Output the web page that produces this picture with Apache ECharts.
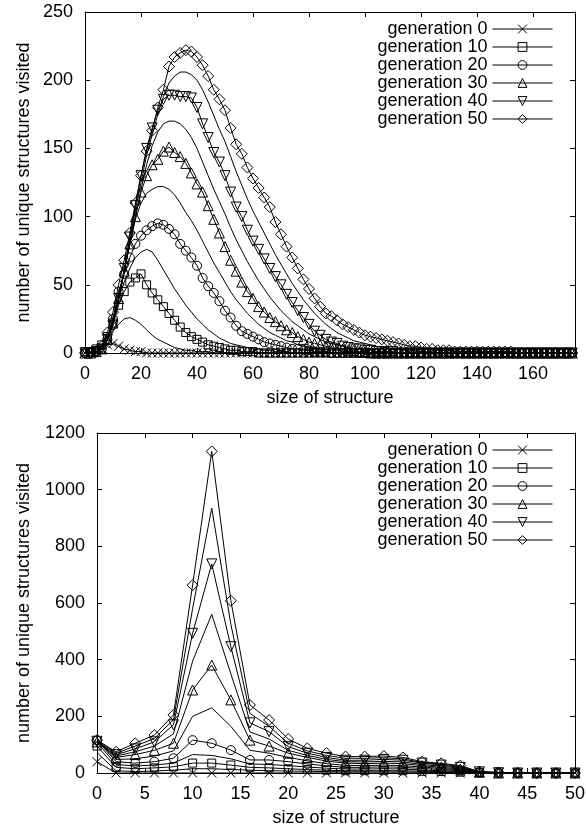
<!DOCTYPE html>
<html>
<head>
<meta charset="utf-8">
<script src="https://cdn.jsdelivr.net/npm/echarts@6/dist/echarts.min.js"></script>
<style>
html, body { margin: 0; padding: 0; background: #fff; }
#chart { width: 586px; height: 831px; }
</style>
</head>
<body>
<div id="chart"></div>
<script>
// sizes of structure (top panel, step 2)
var sizesTop = [0,2,4,6,8,10,12,14,16,18,20,22,24,26,28,30,32,34,36,38,40,42,44,46,48,50,52,54,56,58,
    60,62,64,66,68,70,72,74,76,78,80,82,84,86,88,90,92,94,96,98,100,102,104,106,108,110,112,114,116,118,
    120,122,124,126,128,130,132,134,136,138,140,142,144,146,148,150,152,154,156,158,160,162,164,166,168,170,172,174];
// sizes of structure (bottom panel)
var sizesBottom = [0,2,4,6,8,10,12,14,16,18,20,22,24,26,28,30,32,34,36,38,40,42,44,46,48,50];

var legendNames = ['generation 0', 'generation 10', 'generation 20', 'generation 30', 'generation 40', 'generation 50'];

// top panel, one array per generation
var top0  = [0,0,1,3,6,7,5,3,2,1, 1,0,0,0,0,0,0,0,0,0, 0,0,0,0,0,0,0,0,0,0, 0,0,0,0,0,0,0,0,0,0,
    0,0,0,0,0,0,0,0,0,0, 0,0,0,0,0,0,0,0,0,0, 0,0,0,0,0,0,0,0,0,0, 0,0,0,0,0,0,0,0,0,0, 0,0,0,0,0,0,0,0];
var top5  = [0,0,1,4,10,16,21,25,26,24, 21,17,13,10,8,6,4,3,2,2, 1,1,1,0,0,0,0,0,0,0, 0,0,0,0,0,0,0,0,0,0,
    0,0,0,0,0,0,0,0,0,0, 0,0,0,0,0,0,0,0,0,0, 0,0,0,0,0,0,0,0,0,0, 0,0,0,0,0,0,0,0,0,0, 0,0,0,0,0,0,0,0];
var top10 = [1,1,3,6,12,22,35,45,52,55, 58,50,44,39,34,29,24,19,15,12, 10,8,6,5,4,3,2,2,1,1, 1,0,0,0,0,0,0,0,0,0,
    0,0,0,0,0,0,0,0,0,0, 0,0,0,0,0,0,0,0,0,0, 0,0,0,0,0,0,0,0,0,0, 0,0,0,0,0,0,0,0,0,0, 0,0,0,0,0,0,0,0];
var top15 = [0,0,2,5,12,24,40,52,62,70, 74,76,74,68,61,54,47,41,35,30, 25,21,17,14,11,9,7,6,5,4, 3,3,2,2,1,1,1,0,0,0,
    0,0,0,0,0,0,0,0,0,0, 0,0,0,0,0,0,0,0,0,0, 0,0,0,0,0,0,0,0,0,0, 0,0,0,0,0,0,0,0,0,0, 0,0,0,0,0,0,0,0];
var top20 = [0,0,1,3,10,25,45,58,70,80, 86,90,93,95,94,91,87,80,75,70, 64,55,49,44,38,31,26,20,16,14, 12,10,8,7,6,5,4,3,3,2,
    2,1,1,1,0,0,0,0,0,0, 0,0,0,0,0,0,0,0,0,0, 0,0,0,0,0,0,0,0,0,0, 0,0,0,0,0,0,0,0,0,0, 0,0,0,0,0,0,0,0];
var top25 = [0,0,1,3,10,22,40,60,80,98, 110,117,120,122,122,120,116,110,103,97, 90,82,74,66,59,52,45,39,34,29, 25,21,18,15,13,11,9,8,6,5,
    4,4,3,3,2,2,1,1,1,0, 0,0,0,0,0,0,0,0,0,0, 0,0,0,0,0,0,0,0,0,0, 0,0,0,0,0,0,0,0,0,0, 0,0,0,0,0,0,0,0];
var top30 = [0,0,1,3,10,22,40,60,80,100, 118,130,138,142,148,151,147,144,139,132, 124,118,108,98,88,78,68,60,52,45, 40,34,30,26,23,20,17,15,12,10,
    8,7,6,5,4,3,3,2,2,1, 1,0,0,0,0,0,0,0,0,0, 0,0,0,0,0,0,0,0,0,0, 0,0,0,0,0,0,0,0,0,0, 0,0,0,0,0,0,0,0];
var top35 = [0,0,1,3,10,22,40,60,80,100, 120,138,152,162,168,170,170,168,164,158, 150,140,130,120,111,102,92,83,75,67, 60,53,47,41,36,31,27,23,20,17,
    14,12,10,8,7,6,5,4,3,3, 2,2,1,1,1,0,0,0,0,0, 0,0,0,0,0,0,0,0,0,0, 0,0,0,0,0,0,0,0,0,0, 0,0,0,0,0,0,0,0];
var top40 = [0,0,1,3,10,20,40,62,85,108, 130,150,165,178,186,189,189,188,188,187, 180,168,158,147,140,130,118,107,100,90, 82,76,69,62,56,50,43,37,31,26,
    21,16,13,10,8,7,5,4,3,3, 2,2,1,1,1,1,0,0,0,0, 0,0,0,0,0,0,0,0,0,0, 0,0,0,0,0,0,0,0,0,0, 0,0,0,0,0,0,0,0];
var top45 = [0,0,1,3,10,22,38,60,82,105, 125,145,160,175,188,198,203,206,206,204, 200,193,184,174,164,155,144,133,123,113, 104,96,88,80,72,65,58,51,45,39,
    34,29,25,21,18,15,13,11,9,8, 7,6,5,4,4,3,3,2,2,2, 1,1,1,0,0,0,0,0,0,0, 0,0,0,0,0,0,0,0,0,0, 0,0,0,0,0,0,0,0];
var top50 = [0,0,1,5,15,30,50,68,88,110, 130,148,163,180,193,210,217,220,222,221, 217,211,203,193,186,178,165,153,146,136, 128,121,114,107,96,87,78,70,62,54,
    47,40,34,29,27,24,21,19,17,15, 13,12,11,10,9,8,7,6,5,5, 4,3,3,2,2,2,1,1,1,1, 1,1,1,1,1,1,1,0,0,0, 0,0,0,0,0,0,0,0];

// bottom panel
var bot0  = [40,0,0,0,0,0,0,0,0,0,0,0,0,0,0,0,0,0,0,0,0,0,0,0,0,0];
var bot5  = [72,8,5,7,10,15,15,12,10,8,7,6,5,4,4,4,4,3,2,1,0,0,0,0,0,0];
var bot10 = [95,20,15,18,22,35,35,28,20,18,15,12,10,8,8,8,8,6,5,3,1,0,0,0,0,0];
var bot15 = [108,30,25,28,35,65,62,50,32,30,26,21,17,14,14,15,14,11,8,5,1,0,0,0,0,0];
var bot20 = [115,40,35,40,52,116,105,81,46,46,40,32,25,20,20,22,20,16,12,8,2,0,0,0,0,0];
var bot25 = [112,48,50,60,78,200,230,165,80,70,55,43,33,27,26,28,26,21,16,11,2,0,0,0,0,0];
var bot30 = [110,55,65,80,105,293,381,258,116,95,70,55,42,35,33,35,33,26,20,14,3,0,0,0,0,0];
var bot35 = [111,60,75,95,138,395,560,350,145,120,80,62,48,40,39,41,39,30,24,17,3,1,0,0,0,0];
var bot40 = [112,65,85,110,170,493,738,446,177,146,93,70,55,45,45,48,45,35,28,20,4,1,0,0,0,0];
var bot45 = [114,70,95,122,188,580,935,525,210,165,105,78,62,52,52,54,50,37,31,23,4,1,0,0,0,0];
var bot50 = [116,75,105,134,205,663,1135,608,240,187,120,87,70,58,58,60,55,40,34,26,5,2,1,0,0,0];

var FONT = 'Liberation Sans';
var crossSym = 'path://M0,0L10,10M10,0L0,10';
var downTriSym = 'path://M0,0L10,0L5,8.66Z';

var markers = [
    { symbol: crossSym, size: 9 },
    { symbol: 'rect', size: 8 },
    { symbol: 'circle', size: 9 },
    { symbol: 'triangle', size: 10 },
    { symbol: downTriSym, size: 10 },
    { symbol: 'diamond', size: 11 }
];

function mkSeries(name, xs, ys, idx, mk) {
    return {
        name: name,
        type: 'line',
        xAxisIndex: idx * 2,
        yAxisIndex: idx * 2,
        data: xs.map(function (x, i) { return [x, ys[i]]; }),
        symbol: mk ? mk.symbol : 'none',
        symbolSize: mk ? mk.size : 0,
        showSymbol: !!mk,
        lineStyle: { color: '#000', width: 1 },
        itemStyle: { color: 'rgba(0,0,0,0)', borderColor: '#000', borderWidth: 1 },
        emphasis: { disabled: true },
        silent: true,
        z: mk ? 3 : 2
    };
}

function panelSeries(idx, xs, marked, between) {
    var out = [];
    // unlabeled in-between generations first, labelled ones on top
    between.forEach(function (b) {
        out.push(mkSeries(b[0] + (idx ? ' b' : ' t'), xs, b[1], idx, null));
    });
    marked.forEach(function (ys, k) {
        out.push(mkSeries(legendNames[k], xs, ys, idx, markers[k]));
    });
    return out;
}

function plainNum(v) { return String(v); }

function axisX(idx, max, interval, top, showMax) {
    return {
        gridIndex: idx, type: 'value', min: 0, max: max, interval: interval,
        position: top ? 'top' : 'bottom',
        name: top ? '' : 'size of structure',
        nameLocation: 'middle', nameGap: 36, nameMoveOverlap: false,
        nameTextStyle: { fontFamily: FONT, fontSize: 18, color: '#000' },
        axisLine: { show: true, onZero: false, lineStyle: { color: '#000', width: 1 } },
        axisTick: { show: true, inside: true, length: 5, lineStyle: { color: '#000', width: 1 } },
        axisLabel: { show: !top, showMaxLabel: showMax, margin: 12, formatter: plainNum,
            fontFamily: FONT, fontSize: 18, color: '#000' },
        splitLine: { show: false }
    };
}

function axisY(idx, max, interval, right, gap) {
    return {
        gridIndex: idx, type: 'value', min: 0, max: max, interval: interval,
        position: right ? 'right' : 'left',
        name: right ? '' : 'number of unique structures visited',
        nameLocation: 'middle', nameGap: gap, nameRotate: 90, nameMoveOverlap: false,
        nameTextStyle: { fontFamily: FONT, fontSize: 18, color: '#000' },
        axisLine: { show: true, onZero: false, lineStyle: { color: '#000', width: 1 } },
        axisTick: { show: true, inside: true, length: 5, lineStyle: { color: '#000', width: 1 } },
        axisLabel: { show: !right, margin: 12, formatter: plainNum, fontFamily: FONT, fontSize: 18, color: '#000' },
        splitLine: { show: false }
    };
}

function mkLegend(top) {
    return {
        orient: 'vertical', right: 33, top: top, padding: 0, itemGap: 0,
        itemWidth: 60, itemHeight: 11, align: 'right', selectedMode: false,
        data: legendNames,
        textStyle: { fontFamily: FONT, fontSize: 18, color: '#000', lineHeight: 17 },
        itemStyle: { color: 'rgba(0,0,0,0)', borderColor: '#000', borderWidth: 1 },
        lineStyle: { color: '#000', width: 1 }
    };
}

var chart = echarts.init(document.getElementById('chart'), null, { renderer: 'canvas' });
var series = []
    .concat(panelSeries(0, sizesTop, [top0, top10, top20, top30, top40, top50],
        [['generation 5', top5], ['generation 15', top15], ['generation 25', top25], ['generation 35', top35], ['generation 45', top45]]))
    .concat(panelSeries(1, sizesBottom, [bot0, bot10, bot20, bot30, bot40, bot50],
        [['generation 5', bot5], ['generation 15', bot15], ['generation 25', bot25], ['generation 35', bot35], ['generation 45', bot45]]));

chart.setOption({
    animation: false,
    backgroundColor: '#fff',
    textStyle: { fontFamily: FONT },
    grid: [
        { left: 85, right: 11, top: 12, height: 341, outerBoundsMode: 'none' },
        { left: 97, right: 11, top: 433, height: 340, outerBoundsMode: 'none' }
    ],
    legend: [mkLegend(20), mkLegend(441)],
    xAxis: [
        axisX(0, 175, 20, false, false), axisX(0, 175, 20, true, false),
        axisX(1, 50, 5, false, true), axisX(1, 50, 5, true, true)
    ],
    yAxis: [
        axisY(0, 250, 50, false, 52), axisY(0, 250, 50, true, 0),
        axisY(1, 1200, 200, false, 64), axisY(1, 1200, 200, true, 0)
    ],
    series: series
});
</script>
</body>
</html>
